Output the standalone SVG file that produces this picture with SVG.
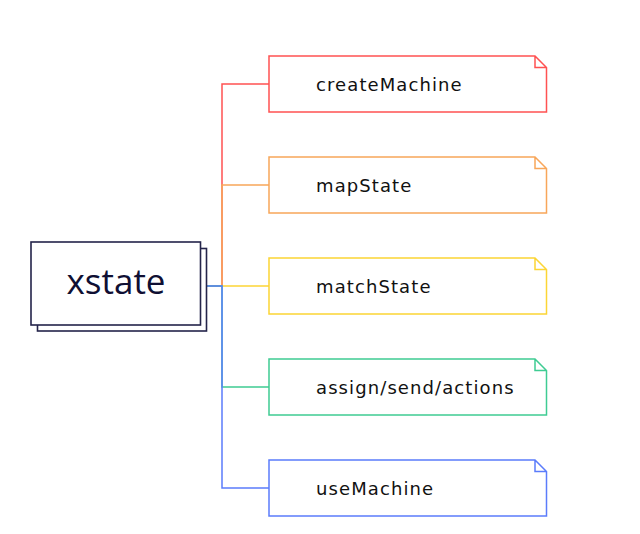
<svg xmlns="http://www.w3.org/2000/svg" width="640" height="534" viewBox="0 0 640 534">
<style>
.bg{fill:#ffffff}
.main rect{fill:#ffffff;stroke:#24244a;stroke-width:1.6}
.main text{font-family:"Open Sans","DejaVu Sans",sans-serif;font-size:35px;font-weight:500;fill:#0f0f33;text-anchor:middle}
.note path{fill:#ffffff;stroke-width:1.5}
.note text{font-family:"DejaVu Sans",sans-serif;font-size:18px;letter-spacing:1.1px;fill:#111111}
.conn path{fill:none;stroke-width:1.5}
.red{stroke:#ff5252}
.orange{stroke:#f8a65a}
.yellow{stroke:#fcd535}
.green{stroke:#3fcc93}
.blue{stroke:#5b7cfb}
</style>
<rect class="bg" x="0" y="0" width="640" height="534"/>
<g id="connectors" class="conn">
<path class="red" d="M207,286 H222 V84 H269"/>
<path class="orange" d="M207,286 H222 V185 H269"/>
<path class="yellow" d="M207,286 H222 V286 H269"/>
<path class="green" d="M207,286 H222 V387 H269"/>
<path class="blue" d="M207,286 H222 V488 H269"/>
</g>
<g id="xstate" class="main">
<rect x="37.5" y="248.5" width="169" height="82.5"/>
<rect x="31" y="242" width="169.5" height="83"/>
<text x="116" y="294">xstate</text>
</g>
<g id="createMachine" class="note">
<path class="red" d="M269,56 H535 L546.5,67.5 V112 H269 Z M535,56 V67.5 H546.5"/>
<text x="316" y="91">createMachine</text>
</g>
<g id="mapState" class="note">
<path class="orange" d="M269,157 H535 L546.5,168.5 V213 H269 Z M535,157 V168.5 H546.5"/>
<text x="316" y="192">mapState</text>
</g>
<g id="matchState" class="note">
<path class="yellow" d="M269,258 H535 L546.5,269.5 V314 H269 Z M535,258 V269.5 H546.5"/>
<text x="316" y="293">matchState</text>
</g>
<g id="assign" class="note">
<path class="green" d="M269,359 H535 L546.5,370.5 V415 H269 Z M535,359 V370.5 H546.5"/>
<text x="316" y="394">assign/send/actions</text>
</g>
<g id="useMachine" class="note">
<path class="blue" d="M269,460 H535 L546.5,471.5 V516 H269 Z M535,460 V471.5 H546.5"/>
<text x="316" y="495">useMachine</text>
</g>
</svg>
